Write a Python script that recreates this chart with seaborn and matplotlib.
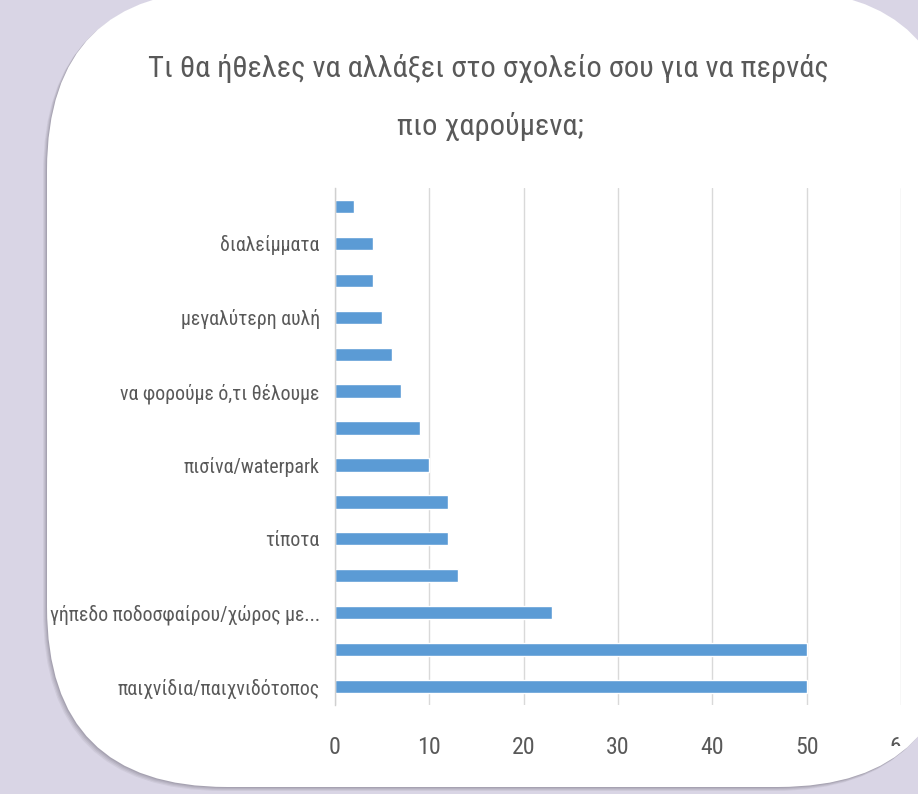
import matplotlib
matplotlib.use("Agg")
import matplotlib.pyplot as plt
import seaborn as sns
import pandas as pd
from matplotlib.patches import FancyBboxPatch
from matplotlib.transforms import Bbox
from matplotlib import font_manager

# data, top to bottom (only every other category label is shown in the chart)
labels = ["", "διαλείμματα", "", "μεγαλύτερη αυλή", "", "να φορούμε ό,τι θέλουμε",
          "", "πισίνα/waterpark", "", "τίποτα", "", "γήπεδο ποδοσφαίρου/χώρος με...",
          "", "παιχνίδια/παιχνιδότοπος"]
values = [2, 4, 4, 5, 6, 7, 9, 10, 12, 12, 13, 23, 50, 50]
x_ticks = [0, 10, 20, 30, 40, 50, 60]
title_lines = ["Τι θα ήθελες να αλλάξει στο σχολείο σου για να περνάς", "πιο χαρούμενα;"]

BG = "#D9D5E5"
BAR = "#5B9BD5"
TXT = "#595959"
GRID = "#D9D9D9"

sns.set_theme(style="white")

# prefer a narrow face, the original uses a condensed light font
fonts = font_manager.fontManager.ttflist
names = {f.name for f in fonts}
family, stretch = "Open Sans", "normal"
for cand in ["Roboto Condensed", "Open Sans Condensed", "Liberation Sans Narrow", "Noto Sans Condensed"]:
    if cand in names:
        family = cand
        break
else:
    for f in fonts:
        if f.name in ("DejaVu Sans", "Noto Sans", "Open Sans", "Roboto") and f.stretch in ("condensed", "semi-condensed", 75, 87.5):
            family, stretch = f.name, "condensed"
            break
plt.rcParams["font.family"] = [family, "DejaVu Sans"]
plt.rcParams["font.stretch"] = stretch

df = pd.DataFrame({"pos": range(len(values)), "value": values})

fig = plt.figure(figsize=(9.18, 7.94), dpi=100, facecolor=BG)
renderer = fig.canvas.get_renderer()


def fit_size(text, target, base=20):
    t = fig.text(0, 0, text, fontsize=base)
    w = t.get_window_extent(renderer).width
    t.remove()
    return base * target / w


# background panel with rounded corners and soft shadow
bg = fig.add_axes([0, 0, 1, 1], zorder=0)
bg.set_xlim(0, 918)
bg.set_ylim(794, 0)
bg.axis("off")
for i, a in enumerate([0.10, 0.12, 0.15, 0.2]):
    off = 4 - i
    bg.add_patch(FancyBboxPatch((47 - off, -10 + off), 911, 797, boxstyle="round,pad=0,rounding_size=180",
                                facecolor="#6E6A78", edgecolor="none", alpha=a))
panel = FancyBboxPatch((47, -10), 911, 797, boxstyle="round,pad=0,rounding_size=180",
                       facecolor="white", edgecolor="none")
bg.add_patch(panel)

title_size = fit_size(title_lines[0], 680)
bg.text(488, 77, title_lines[0], ha="center", va="baseline", fontsize=title_size, color=TXT)
bg.text(490, 135, title_lines[1], ha="center", va="baseline", fontsize=title_size, color=TXT)

label_size = fit_size("παιχνίδια/παιχνιδότοπος", 202)

# chart
ax = fig.add_axes([335 / 918, 1 - 705 / 794, 566 / 918, 517 / 794], zorder=1)
ax.patch.set_alpha(0)
sns.barplot(data=df, x="value", y="pos", orient="h", color=BAR, width=0.36,
            saturation=1, ax=ax)
ax.set_xlim(0, 60)
ax.set_xticks(x_ticks)
ax.set_yticks(range(len(labels)))
ax.set_yticklabels(labels)
ax.set_xlabel("")
ax.set_ylabel("")
ax.xaxis.grid(True, color=GRID, linewidth=1)
ax.set_axisbelow(True)
for s in ["top", "right", "bottom"]:
    ax.spines[s].set_visible(False)
ax.spines["left"].set_color("#D0D0D0")
ax.spines["left"].set_linewidth(1)
ax.tick_params(axis="x", length=0, pad=22, labelsize=label_size * 1.2, labelcolor=TXT)
ax.tick_params(axis="y", length=0, pad=11, labelsize=label_size, labelcolor=TXT)

# the last x label sits under the panel's rounded corner and is cut by it
last = ax.xaxis.get_major_ticks()[-1].label1
last.set_clip_box(Bbox([[0, 794 - 746], [901, 794]]))
last.set_clip_on(True)

fig.savefig("out.png", dpi=100, facecolor=BG)
